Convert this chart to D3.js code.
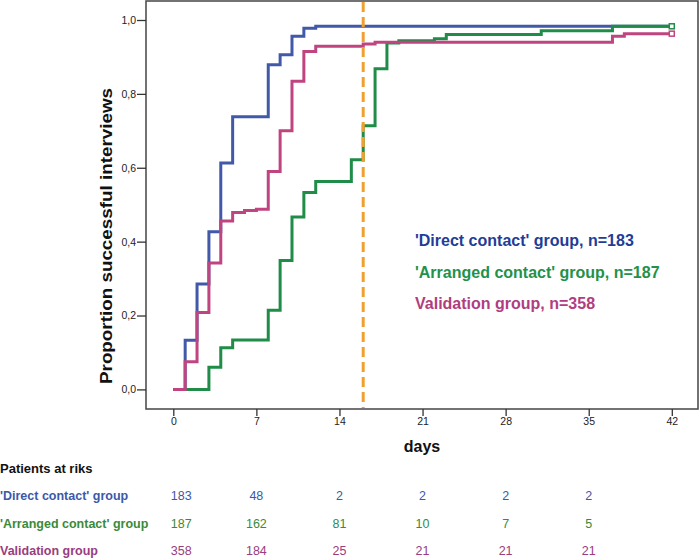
<!DOCTYPE html>
<html><head><meta charset="utf-8">
<script src="https://cdn.jsdelivr.net/npm/d3@7/dist/d3.min.js"></script>
<style>body{margin:0;background:#fff}svg{display:block}text{font-family:"Liberation Sans",Arial,sans-serif}</style>
</head><body><svg id="c" width="700" height="558"></svg>
<script>
// ---- data ----
const directDays   = [0,1,2,3,4,5,8,9,10,11,12,42];
const directProp   = [0,0.133,0.285,0.427,0.613,0.738,0.879,0.906,0.956,0.978,0.983,0.983];
const arrangedDays = [0,3,4,5,8,9,10,11,12,15,16,17,18,19,22,23,31,37,42];
const arrangedProp = [0,0.060,0.113,0.134,0.214,0.349,0.467,0.533,0.563,0.622,0.714,0.868,0.938,0.944,0.949,0.961,0.971,0.983,0.983];
const validDays    = [0,1,2,3,4,5,6,7,8,9,10,11,12,16,17,37,38,42];
const validProp    = [0,0.075,0.208,0.342,0.456,0.479,0.484,0.488,0.590,0.700,0.834,0.915,0.929,0.935,0.940,0.956,0.963,0.963];
const xTicks = [0,7,14,21,28,35,42];
const yTicks = [0,0.2,0.4,0.6,0.8,1.0];
const cutoffDay = 16;
const legendLabels = ["'Direct contact' group, n=183","'Arranged contact' group, n=187","Validation group, n=358"];
const tableTitle = "Patients at riks";
const tableGroups = ["'Direct contact' group","'Arranged contact' group","Validation group"];
const tableDays = [0,7,14,21,28,35];
const atRiskDirect   = [183,48,2,2,2,2];
const atRiskArranged = [187,162,81,10,7,5];
const atRiskValid    = [358,184,25,21,21,21];

const lineColors = ["#4259a9","#1f8c47","#bf4480"];
const legendColors = ["#1f3d97","#23914a","#b13d7f"];
const tableColors = ["#3c58a8","#3a8a3a","#993c80"];

const svg = d3.select("#c");
const x = d3.scaleLinear().domain([0,42]).range([173.3,671.8]);
const y = d3.scaleLinear().domain([0,1]).range([389.4,20]);
const frame = {l:146,t:1,r:698,b:409};

// frame
svg.append("rect").attr("x",frame.l).attr("y",frame.t).attr("width",frame.r-frame.l).attr("height",frame.b-frame.t)
  .attr("fill","none").attr("stroke","#505050").attr("stroke-width",1.6);

// axes
const fmt = d => d3.format(".1f")(d).replace(".",",");
const yAxis = svg.append("g").attr("transform",`translate(${frame.l},0)`)
  .call(d3.axisLeft(y).tickValues(yTicks).tickFormat(fmt).tickSize(9).tickPadding(1));
const xAxis = svg.append("g").attr("transform",`translate(0,${frame.b})`)
  .call(d3.axisBottom(x).tickValues(xTicks).tickFormat(d3.format("d")).tickSize(7).tickPadding(2));
[yAxis,xAxis].forEach(a=>{
  a.select(".domain").remove();
  a.selectAll("line").attr("stroke","#333").attr("stroke-width",1.3);
  a.selectAll("text").attr("font-size",10.5).attr("fill","#222").attr("font-family","Liberation Sans, Arial, sans-serif");
});

// curves
const series = [
  {d:directDays,p:directProp},
  {d:arrangedDays,p:arrangedProp},
  {d:validDays,p:validProp}
];
const line = d3.line().x(v=>x(v[0])).y(v=>y(v[1])).curve(d3.curveStepAfter);
series.forEach((s,i)=>{
  const pts = s.d.map((d,k)=>[d,s.p[k]]);
  svg.append("path").attr("d",line(pts)).attr("fill","none")
    .attr("stroke",lineColors[i]).attr("stroke-width",3).attr("stroke-linejoin","miter");
  if(i>0){
    const last = pts[pts.length-1];
    svg.append("rect").attr("x",x(last[0])-2.5).attr("y",y(last[1])-2.5).attr("width",5).attr("height",5)
      .attr("fill","#fff").attr("stroke",lineColors[i]).attr("stroke-width",1.5);
  }
});

// cutoff dashed line
svg.append("line").attr("x1",x(cutoffDay)).attr("x2",x(cutoffDay)).attr("y1",frame.t+1).attr("y2",frame.b-1)
  .attr("stroke","#f0a030").attr("stroke-width",3).attr("stroke-dasharray","10,5");

// axis titles
svg.append("text").attr("x",(frame.l+frame.r)/2).attr("y",452).attr("text-anchor","middle")
  .attr("font-size",16).attr("font-weight","bold").attr("fill","#111").text("days");
svg.append("text").attr("transform","translate(112,236) rotate(-90)").attr("text-anchor","middle")
  .attr("font-size",17).attr("font-weight","bold").attr("fill","#111")
  .attr("textLength",296).attr("lengthAdjust","spacingAndGlyphs").text("Proportion successful interviews");

// legend
const legY = [246,277.5,308.5];
legendLabels.forEach((t,i)=>{
  svg.append("text").attr("x",415).attr("y",legY[i]).attr("font-size",16).attr("font-weight","bold")
    .attr("fill",legendColors[i]).text(t);
});

// at-risk table
svg.append("text").attr("x",0).attr("y",473).attr("font-size",13).attr("font-weight","bold").attr("fill","#111").text(tableTitle);
const rowsY = [500,527.8,555.3];
const atRisk = [atRiskDirect,atRiskArranged,atRiskValid];
tableGroups.forEach((g,i)=>{
  svg.append("text").attr("x",0).attr("y",rowsY[i]).attr("font-size",12.5).attr("font-weight","bold")
    .attr("fill",tableColors[i]).text(g);
  atRisk[i].forEach((v,k)=>{
    const d = tableDays[k];
    svg.append("text").attr("x",x(d)+(d===0?8:0)).attr("y",rowsY[i]).attr("text-anchor","middle")
      .attr("font-size",12.5).attr("fill",tableColors[i]).text(v);
  });
});
</script></body></html>
